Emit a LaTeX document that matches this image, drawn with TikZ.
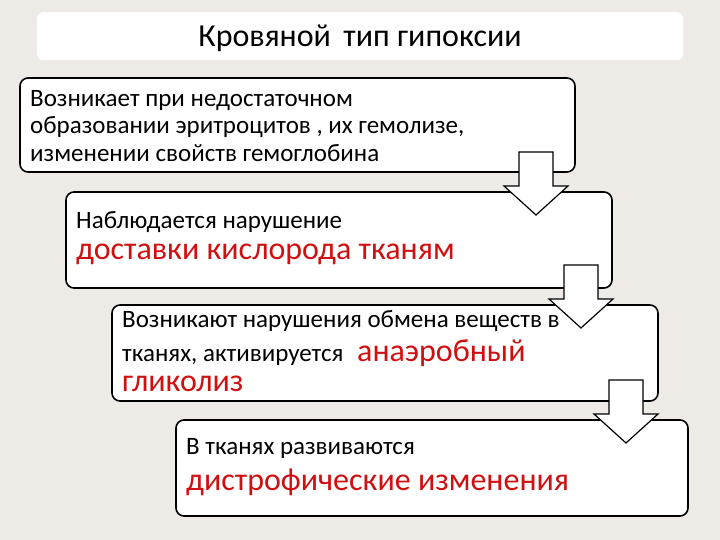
\documentclass[tikz,border=0pt]{standalone}
\usepackage{fontspec}
\setmainfont{Carlito}
\definecolor{bg}{HTML}{EEEBE6}
\definecolor{redt}{HTML}{D01010}
\begin{document}
\begin{tikzpicture}[x=1pt,y=-1pt,
  box/.style={draw=black,line width=1.6pt,fill=white,rounded corners=8pt},
  arr/.style={draw=black,line width=1.2pt,fill=white,line join=miter},
  txt/.style={anchor=west,inner sep=0pt,font=\fontsize{25}{28}\selectfont},
  red/.style={anchor=west,inner sep=0pt,text=redt,font=\fontsize{32}{36}\selectfont}]
\fill[bg] (0,0) rectangle (720,540);
\useasboundingbox (0,0) rectangle (720,540);
\node[fill=white,rounded corners=6pt,minimum width=646pt,minimum height=48pt,anchor=north west,inner sep=0pt] (title) at (37,12) {};
\node[font=\fontsize{32}{36}\selectfont] (tt) at (360,38) {Кровяной\, тип гипоксии};
\draw[box] (20,78) rectangle (575,172) node[pos=0,coordinate] (b1) {};
\draw[box] (66,192) rectangle (612,288) node[pos=0,coordinate] (b2) {};
\draw[box] (112,305) rectangle (658,401) node[pos=0,coordinate] (b3) {};
\draw[box] (176,420) rectangle (688,516) node[pos=0,coordinate] (b4) {};
\node[txt] (t1a) at (30,101) {Возникает при недостаточном};
\node[txt] (t1b) at (30,127) {образовании эритроцитов , их гемолизе,};
\node[txt] (t1c) at (30,153) {изменении свойств гемоглобина};
\node[txt] (t2a) at (76,222) {Наблюдается нарушение};
\node[red] (t2b) at (76,254) {доставки кислорода тканям};
\node[txt] (t3a) at (122,321) {Возникают нарушения обмена веществ в};
\node[txt,anchor=base west] (t3b) at (122,361) {тканях, активируется};
\node[red,anchor=base west] (t3c) at (357,361) {анаэробный};
\node[red] (t3d) at (122,384) {гликолиз};
\node[txt] (t4a) at (186,448) {В тканях развиваются};
\node[red] (t4b) at (186,482) {дистрофические изменения};
\foreach \c/\t/\n in {536/152/a1,581/265/a2,626/380/a3}{
  \draw[arr] (\c-17,\t) -- (\c+17,\t) -- (\c+17,\t+34) -- (\c+32,\t+34) -- (\c,\t+63) -- (\c-32,\t+34) -- (\c-17,\t+34) -- cycle;
  \coordinate (\n) at (\c,\t);
}
\end{tikzpicture}
\end{document}
